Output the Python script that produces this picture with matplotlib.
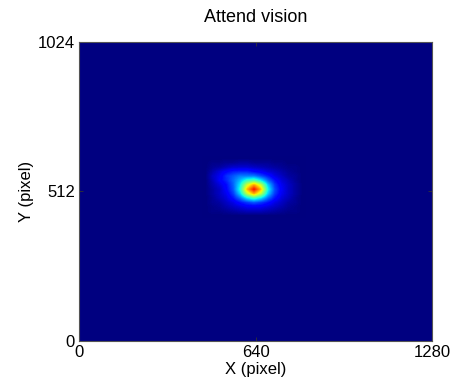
import numpy as np
import matplotlib
matplotlib.use("Agg")
import matplotlib.pyplot as plt

plt.rcParams['font.family'] = ['Liberation Sans', 'DejaVu Sans']

title = "Attend vision"
x_label = "X (pixel)"
y_label = "Y (pixel)"
x_ticks = [0, 640, 1280]
y_ticks = [0, 512, 1024]
screen_w = 1280
screen_h = 1024

# gaze density (normalised 0..1) on a grid around the blob
grid_x = [460, 485, 510, 535, 560, 585, 610, 635, 660, 685, 710, 735, 760, 785, 810]
grid_y = [430, 445, 460, 475, 490, 505, 520, 535, 550, 565, 580, 595, 610, 625]
density = [
    [0, 0.00, 0.00, 0.00, 0.00, 0.00, 0.00, 0.00, 0.00, 0.00, 0.00, 0.00, 0.00, 0.00, 0],  # 430
    [0, 0.01, 0.01, 0.02, 0.03, 0.04, 0.05, 0.05, 0.05, 0.04, 0.03, 0.02, 0.01, 0.01, 0],  # 445
    [0, 0.01, 0.02, 0.04, 0.06, 0.08, 0.10, 0.10, 0.10, 0.08, 0.06, 0.04, 0.02, 0.01, 0],  # 460
    [0, 0.02, 0.03, 0.06, 0.09, 0.14, 0.18, 0.21, 0.18, 0.14, 0.09, 0.06, 0.03, 0.02, 0],  # 475
    [0, 0.02, 0.05, 0.08, 0.14, 0.23, 0.35, 0.42, 0.35, 0.23, 0.14, 0.08, 0.05, 0.02, 0],  # 490
    [0, 0.03, 0.06, 0.10, 0.18, 0.33, 0.58, 0.73, 0.58, 0.33, 0.18, 0.10, 0.06, 0.03, 0],  # 505
    [0, 0.03, 0.06, 0.12, 0.21, 0.39, 0.71, 0.90, 0.71, 0.38, 0.20, 0.11, 0.06, 0.03, 0],  # 520
    [0, 0.04, 0.08, 0.13, 0.22, 0.36, 0.60, 0.74, 0.59, 0.33, 0.18, 0.10, 0.06, 0.03, 0],  # 535
    [0, 0.05, 0.11, 0.16, 0.23, 0.31, 0.41, 0.45, 0.36, 0.23, 0.14, 0.08, 0.05, 0.02, 0],  # 550
    [0, 0.06, 0.10, 0.17, 0.21, 0.25, 0.25, 0.25, 0.20, 0.15, 0.09, 0.06, 0.03, 0.02, 0],  # 565
    [0, 0.04, 0.08, 0.12, 0.15, 0.16, 0.16, 0.13, 0.11, 0.08, 0.06, 0.04, 0.02, 0.01, 0],  # 580
    [0, 0.02, 0.03, 0.05, 0.07, 0.07, 0.07, 0.06, 0.05, 0.04, 0.03, 0.02, 0.01, 0.01, 0],  # 595
    [0, 0.01, 0.01, 0.02, 0.02, 0.03, 0.03, 0.02, 0.02, 0.02, 0.01, 0.01, 0.00, 0.00, 0],  # 610
    [0, 0.00, 0.00, 0.00, 0.00, 0.00, 0.00, 0.00, 0.00, 0.00, 0.00, 0.00, 0.00, 0.00, 0],  # 625
]

fig = plt.figure(figsize=(4.54, 3.84), dpi=100)
ax = fig.add_axes([0.174, 0.112, 0.778, 0.779])
cmap = plt.get_cmap('jet')
ax.set_facecolor(cmap(0.0))

dx = (grid_x[1] - grid_x[0]) / 2
dy = (grid_y[1] - grid_y[0]) / 2
ax.imshow(np.array(density), origin='lower', cmap=cmap, vmin=0, vmax=1,
          interpolation='bilinear', aspect='auto',
          extent=[grid_x[0] - dx, grid_x[-1] + dx, grid_y[0] - dy, grid_y[-1] + dy])

ax.set_xlim(0, screen_w)
ax.set_ylim(0, screen_h)
ax.set_xticks(x_ticks)
ax.set_yticks(y_ticks)
ax.tick_params(direction='in', length=3, width=0.6, top=True, right=True,
               labelsize=12, pad=3, color='#333333')
for s in ax.spines.values():
    s.set_color('#555555')
    s.set_linewidth(0.8)
ax.set_title(title, fontsize=13, pad=14)
ax.set_xlabel(x_label, fontsize=12, labelpad=1)
ax.set_ylabel(y_label, fontsize=12, labelpad=3)

fig.savefig("out.png", dpi=100)
